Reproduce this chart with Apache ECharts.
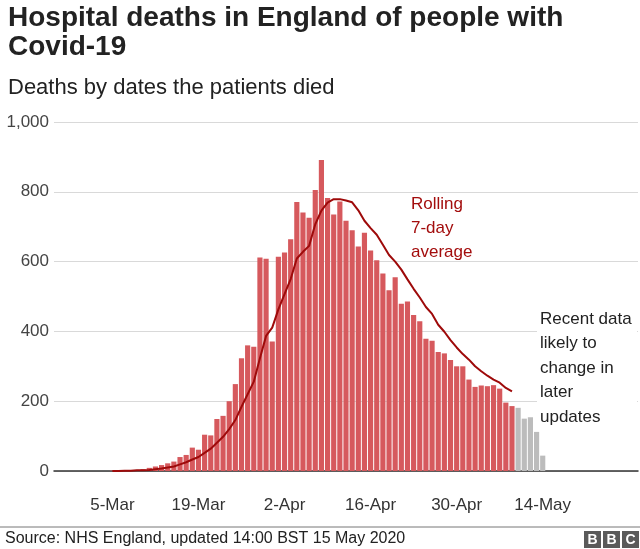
<!DOCTYPE html>
<html>
<head>
<meta charset="utf-8">
<script src="https://cdn.jsdelivr.net/npm/echarts@6/dist/echarts.min.js"></script>
<style>
html, body { margin: 0; padding: 0; background: #fff; }
#main { width: 640px; height: 549px; }
</style>
</head>
<body>
<div id="main"></div>
<script>
// x axis runs from 25-Feb to 29-May 2020, one category per day
var monthNames = ['Jan', 'Feb', 'Mar', 'Apr', 'May', 'Jun'];
var days = [];
for (var i = 0; i < 95; i++) {
	var d = new Date(2020, 1, 25 + i);
	days.push(d.getDate() + '-' + monthNames[d.getMonth()]);
}
var tickLabels = ['5-Mar', '19-Mar', '2-Apr', '16-Apr', '30-Apr', '14-May'];

// deaths per day, 5-Mar to 9-May
var deathsStart = '5-Mar';
var deaths = [1, 1, 2, 2, 3, 5,
	9, 13, 17, 22, 27, 40, 46, 67, 61, 104, 102, 149, 158, 200, 249, 323, 360, 356, 612, 608, 371,
	614, 626, 664, 771, 741, 726, 805, 891, 782, 735, 772, 717, 690, 643, 683, 632, 604, 566, 518, 555,
	479, 486, 447, 429, 379, 373, 341, 337, 318, 300,
	300, 262, 241, 245, 243, 246, 236, 196, 186];

// recent days, likely to change (grey), 10-May to 14-May
var recentStart = '10-May';
var recent = [181, 150, 154, 112, 44];

// rolling 7-day average, 5-Mar to 9-May
var avgStart = '5-Mar';
var rollingAvg = [0, 0, 1, 1, 2, 2,
	3, 5, 7, 10, 13, 19, 25, 33, 40, 52, 64, 81, 98, 120, 146, 184, 220, 256, 323, 387, 411,
	463, 507, 550, 609, 628, 645, 707, 746, 769, 779, 779, 775, 770, 747, 717, 696, 677, 648, 619, 600,
	577, 549, 522, 497, 470, 450, 419, 399, 375, 354,
	335, 319, 300, 286, 273, 262, 253, 238, 228];

function place(start, values) {
	var s = days.indexOf(start);
	return values.map(function (v, k) { return [days[s + k], v]; });
}

var font = "'Liberation Sans', Arial, sans-serif";

var chart = echarts.init(document.getElementById('main'));
chart.setOption({
	animation: false,
	textStyle: { fontFamily: font },
	title: [{
		text: 'Hospital deaths in England of people with\nCovid-19',
		left: 8,
		top: 4,
		padding: 0,
		textStyle: { fontSize: 28, fontWeight: 'bold', lineHeight: 29, color: '#222', fontFamily: font }
	}, {
		text: 'Deaths by dates the patients died',
		left: 8,
		top: 75,
		padding: 0,
		textStyle: { fontSize: 22, fontWeight: 'normal', lineHeight: 26, color: '#222', fontFamily: font }
	}],
	grid: { left: 54, right: 2, top: 122, bottom: 78 },
	xAxis: {
		type: 'category',
		data: days,
		axisTick: { show: false },
		axisLine: { lineStyle: { color: '#333', width: 1.5 } },
		axisLabel: {
			interval: function (idx, val) { return tickLabels.indexOf(val) >= 0; },
			fontSize: 17,
			color: '#333',
			margin: 26,
			fontFamily: font
		}
	},
	yAxis: {
		type: 'value',
		min: 0,
		max: 1000,
		interval: 200,
		axisLine: { show: false },
		axisTick: { show: false },
		splitLine: { lineStyle: { color: '#d9d9d9', width: 1 } },
		axisLabel: {
			fontSize: 17,
			color: '#444',
			margin: 5,
			fontFamily: font,
			formatter: function (v) { return v.toLocaleString('en-GB'); }
		}
	},
	series: [{
		name: 'Deaths',
		type: 'bar',
		data: place(deathsStart, deaths),
		barCategoryGap: '16%',
		itemStyle: { color: '#d6595d' }
	}, {
		name: 'Recent',
		type: 'bar',
		data: place(recentStart, recent),
		barGap: '-100%',
		barCategoryGap: '16%',
		itemStyle: { color: '#bcbcbc' }
	}, {
		name: 'Rolling 7-day average',
		type: 'line',
		data: place(avgStart, rollingAvg),
		showSymbol: false,
		z: 5,
		lineStyle: { color: '#9e0a0a', width: 2 }
	}],
	graphic: [
		{ type: 'text', left: 411, top: 192, z: 10,
			style: { text: 'Rolling\n7-day\naverage', font: '17px ' + font, fill: '#a30d0d', lineHeight: 24 } },
		{ type: 'rect', shape: { x: 537, y: 306, width: 100, height: 123 }, z: 9, style: { fill: '#fff' } },
		{ type: 'text', left: 540, top: 307, z: 10,
			style: { text: 'Recent data\nlikely to\nchange in\nlater\nupdates', font: '17px ' + font, fill: '#222', lineHeight: 24.5 } },
		{ type: 'line', shape: { x1: 0, y1: 527, x2: 640, y2: 527 }, style: { stroke: '#777', lineWidth: 1 } },
		{ type: 'text', left: 5, top: 531,
			style: { text: 'Source: NHS England, updated 14:00 BST 15 May 2020', font: '16px ' + font, fill: '#222' } },
		{ type: 'rect', shape: { x: 584, y: 531, width: 17, height: 17 }, style: { fill: '#5a5a5a' } },
		{ type: 'rect', shape: { x: 603, y: 531, width: 17, height: 17 }, style: { fill: '#5a5a5a' } },
		{ type: 'rect', shape: { x: 622, y: 531, width: 17, height: 17 }, style: { fill: '#5a5a5a' } },
		{ type: 'text', x: 592.5, y: 540, z: 5,
			style: { text: 'B', font: 'bold 14px ' + font, fill: '#fff', align: 'center', verticalAlign: 'middle' } },
		{ type: 'text', x: 611.5, y: 540, z: 5,
			style: { text: 'B', font: 'bold 14px ' + font, fill: '#fff', align: 'center', verticalAlign: 'middle' } },
		{ type: 'text', x: 630.5, y: 540, z: 5,
			style: { text: 'C', font: 'bold 14px ' + font, fill: '#fff', align: 'center', verticalAlign: 'middle' } }
	]
});
</script>
</body>
</html>
